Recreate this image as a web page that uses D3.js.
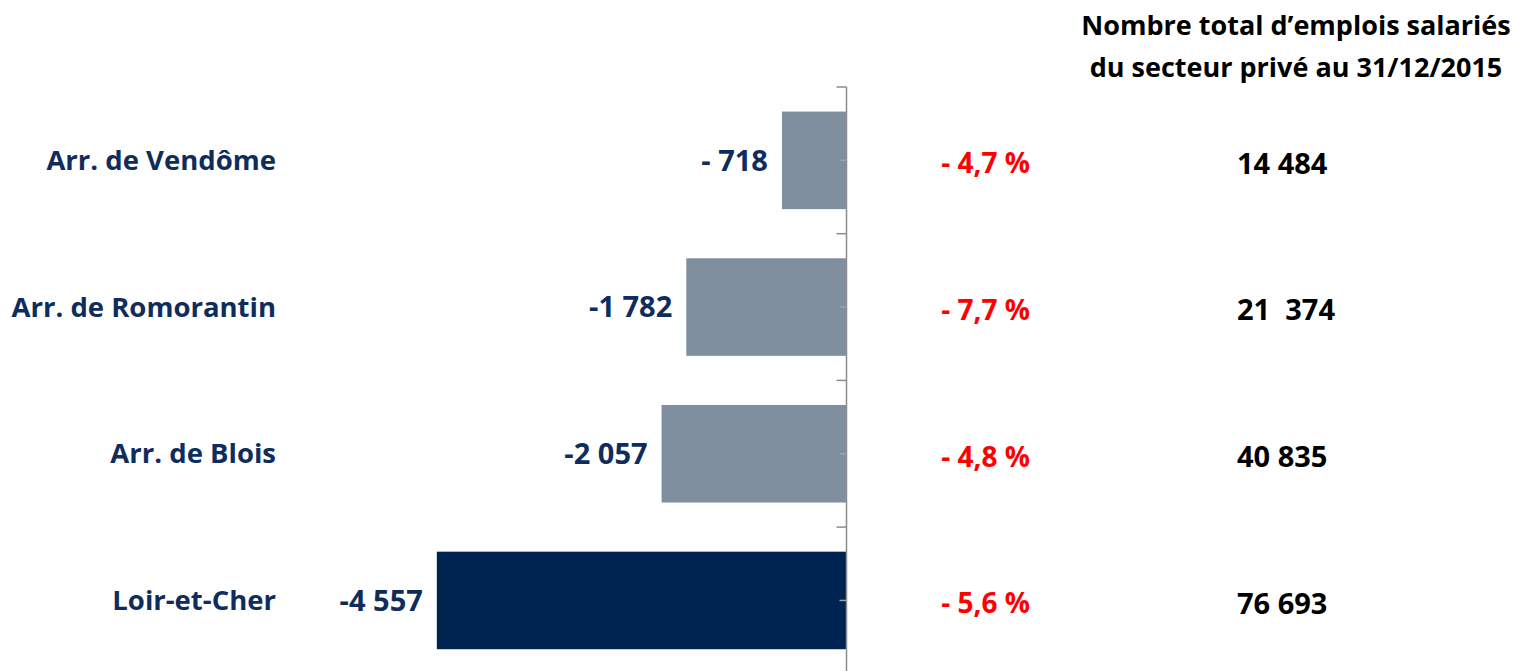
<!DOCTYPE html>
<html>
<head>
<meta charset="utf-8">
<script src="https://cdn.jsdelivr.net/npm/d3@7"></script>
<style>
  body { margin: 0; background: #fff; }
  svg text { font-family: "Open Sans", Lato, sans-serif; font-weight: bold; }
</style>
</head>
<body>
<div id="chart"></div>
<script>
// données
const categories = ["Arr. de Vendôme", "Arr. de Romorantin", "Arr. de Blois", "Loir-et-Cher"];
const variations = [-718, -1782, -2057, -4557];
const valueLabels = ["- 718", "-1 782", "-2 057", "-4 557"];
const percentLabels = ["- 4,7 %", "- 7,7 %", "- 4,8 %", "- 5,6 %"];
const totalLabels = ["14 484", "21  374", "40 835", "76 693"];
const headerLines = ["Nombre total d\u2019emplois salariés", "du secteur privé au 31/12/2015"];

const width = 1515;
const height = 671;

const svg = d3.select("#chart")
    .append("svg")
    .attr("width", width)
    .attr("height", height);

const x = d3.scaleLinear()
    .domain([-5000, 0])
    .range([397, 846.5]);

const y = d3.scaleBand()
    .domain(categories)
    .range([87, 87 + 4 * 146.7])
    .paddingInner(0.335)
    .paddingOuter(0.1675);

const step = y.step();

// barres
svg.selectAll("rect.bar")
    .data(categories)
    .enter()
    .append("rect")
    .attr("class", "bar")
    .attr("x", (d, i) => x(variations[i]))
    .attr("y", d => y(d))
    .attr("width", (d, i) => x(0) - x(variations[i]))
    .attr("height", y.bandwidth())
    .attr("fill", (d, i) => i === categories.length - 1 ? "#002452" : "#808f9f");

// axe vertical
const axisColor = "#8c8c8c";
svg.append("line")
    .attr("x1", x(0)).attr("x2", x(0))
    .attr("y1", 87).attr("y2", height)
    .attr("stroke", axisColor)
    .attr("stroke-width", 1.5);

// graduations principales (limites des catégories)
const boundaries = categories.map(d => y(d) - y.paddingInner() * step / 2);
svg.selectAll("line.major")
    .data(boundaries)
    .enter()
    .append("line")
    .attr("x1", x(0) - 10).attr("x2", x(0))
    .attr("y1", d => d).attr("y2", d => d)
    .attr("stroke", axisColor)
    .attr("stroke-width", 1.5);

// graduations secondaires (centre des catégories)
svg.selectAll("line.minor")
    .data(categories)
    .enter()
    .append("line")
    .attr("x1", x(0) - 7).attr("x2", x(0))
    .attr("y1", d => y(d) + y.bandwidth() / 2)
    .attr("y2", d => y(d) + y.bandwidth() / 2)
    .attr("stroke", "#9aa3ad")
    .attr("stroke-width", 1.5);

const mid = d => y(d) + y.bandwidth() / 2;

// libellés des catégories
svg.selectAll("text.cat")
    .data(categories)
    .enter()
    .append("text")
    .attr("x", 276)
    .attr("y", mid)
    .attr("dy", "0.35em")
    .attr("text-anchor", "end")
    .attr("fill", "#0f2d5c")
    .style("font-size", "27.5px")
    .text(d => d);

// valeurs
svg.selectAll("text.val")
    .data(categories)
    .enter()
    .append("text")
    .attr("x", (d, i) => x(variations[i]) - 14)
    .attr("y", mid)
    .attr("dy", "0.35em")
    .attr("text-anchor", "end")
    .attr("fill", "#0f2d5c")
    .style("font-size", "29px")
    .text((d, i) => valueLabels[i]);

// pourcentages
svg.selectAll("text.pct")
    .data(categories)
    .enter()
    .append("text")
    .attr("x", 1030)
    .attr("y", d => mid(d) + 3)
    .attr("dy", "0.35em")
    .attr("text-anchor", "end")
    .attr("fill", "#ff0000")
    .style("font-size", "28px")
    .text((d, i) => percentLabels[i]);

// totaux
svg.selectAll("text.tot")
    .data(categories)
    .enter()
    .append("text")
    .attr("x", 1237)
    .attr("y", d => mid(d) + 3)
    .attr("dy", "0.35em")
    .attr("text-anchor", "start")
    .attr("fill", "#000")
    .style("font-size", "29px")
    .style("white-space", "pre")
    .text((d, i) => totalLabels[i]);

// titre de colonne
svg.selectAll("text.head")
    .data(headerLines)
    .enter()
    .append("text")
    .attr("x", 1296)
    .attr("y", (d, i) => 26 + i * 42)
    .attr("dy", "0.35em")
    .attr("text-anchor", "middle")
    .attr("fill", "#000")
    .style("font-size", "27px")
    .text(d => d);
</script>
</body>
</html>
